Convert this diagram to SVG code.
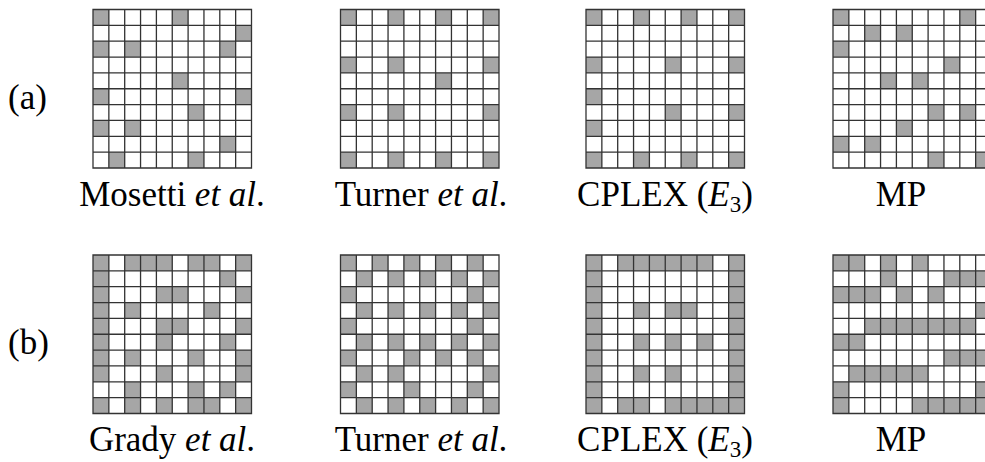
<svg xmlns="http://www.w3.org/2000/svg" xmlns:xlink="http://www.w3.org/1999/xlink" width="985" height="462" viewBox="0 0 985 462">
  <style>
    .on { fill: #a6a6a6; }
    .lines { fill: none; stroke: #333; stroke-width: 1.3; }
    .lbl { font-family: "Liberation Serif", "Times New Roman", serif; font-size: 35px; fill: #000; }
    .it { font-style: italic; }
  </style>
  <defs>
    <!-- 10 x 10 cell grid, cell size 15.85 -->
    <path id="grid" class="lines" d="M0 0H158.5V158.5H0Z
      M15.85 0V158.5M31.7 0V158.5M47.55 0V158.5M63.4 0V158.5M79.25 0V158.5M95.1 0V158.5M110.95 0V158.5M126.8 0V158.5M142.65 0V158.5
      M0 15.85H158.5M0 31.7H158.5M0 47.55H158.5M0 63.4H158.5M0 79.25H158.5M0 95.1H158.5M0 110.95H158.5M0 126.8H158.5M0 142.65H158.5"/>
    <rect id="c" class="on" width="15.85" height="15.85"/>
  </defs>

  <rect width="985" height="462" fill="#fff"/>

  <!-- row (a) -->
  <g id="grid-a1" transform="translate(93,9.5)">
    <use href="#c" x="0" y="0"/><use href="#c" x="79.25" y="0"/>
    <use href="#c" x="142.65" y="15.85"/>
    <use href="#c" x="0" y="31.7"/><use href="#c" x="31.7" y="31.7"/><use href="#c" x="126.8" y="31.7"/>
    <use href="#c" x="79.25" y="63.4"/>
    <use href="#c" x="0" y="79.25"/><use href="#c" x="142.65" y="79.25"/>
    <use href="#c" x="95.1" y="95.1"/>
    <use href="#c" x="0" y="110.95"/><use href="#c" x="31.7" y="110.95"/>
    <use href="#c" x="126.8" y="126.8"/>
    <use href="#c" x="15.85" y="142.65"/><use href="#c" x="95.1" y="142.65"/>
    <use href="#grid"/>
  </g>

  <g id="grid-a2" transform="translate(340.5,9.5)">
    <use href="#c" x="0" y="0"/><use href="#c" x="47.55" y="0"/><use href="#c" x="95.1" y="0"/><use href="#c" x="142.65" y="0"/>
    <use href="#c" x="0" y="47.55"/><use href="#c" x="47.55" y="47.55"/><use href="#c" x="142.65" y="47.55"/>
    <use href="#c" x="95.1" y="63.4"/>
    <use href="#c" x="0" y="95.1"/><use href="#c" x="47.55" y="95.1"/><use href="#c" x="142.65" y="95.1"/>
    <use href="#c" x="0" y="142.65"/><use href="#c" x="47.55" y="142.65"/><use href="#c" x="95.1" y="142.65"/><use href="#c" x="142.65" y="142.65"/>
    <use href="#grid"/>
  </g>

  <g id="grid-a3" transform="translate(586,9.5)">
    <use href="#c" x="0" y="0"/><use href="#c" x="47.55" y="0"/><use href="#c" x="95.1" y="0"/><use href="#c" x="142.65" y="0"/>
    <use href="#c" x="0" y="47.55"/><use href="#c" x="79.25" y="47.55"/><use href="#c" x="142.65" y="47.55"/>
    <use href="#c" x="0" y="79.25"/>
    <use href="#c" x="79.25" y="95.1"/><use href="#c" x="142.65" y="95.1"/>
    <use href="#c" x="0" y="110.95"/>
    <use href="#c" x="0" y="142.65"/><use href="#c" x="47.55" y="142.65"/><use href="#c" x="95.1" y="142.65"/><use href="#c" x="142.65" y="142.65"/>
    <use href="#grid"/>
  </g>

  <g id="grid-a4" transform="translate(833,9.5)">
    <use href="#c" x="0" y="0"/><use href="#c" x="126.8" y="0"/>
    <use href="#c" x="31.7" y="15.85"/><use href="#c" x="63.4" y="15.85"/>
    <use href="#c" x="0" y="31.7"/>
    <use href="#c" x="110.95" y="47.55"/>
    <use href="#c" x="47.55" y="63.4"/><use href="#c" x="79.25" y="63.4"/>
    <use href="#c" x="95.1" y="95.1"/><use href="#c" x="126.8" y="95.1"/>
    <use href="#c" x="63.4" y="110.95"/>
    <use href="#c" x="0" y="126.8"/><use href="#c" x="31.7" y="126.8"/>
    <use href="#c" x="95.1" y="142.65"/><use href="#c" x="142.65" y="142.65"/>
    <use href="#grid"/>
  </g>

  <!-- row (b) -->
  <g id="grid-b1" transform="translate(93,255)">
    <use href="#c" x="0" y="0"/><use href="#c" x="31.7" y="0"/><use href="#c" x="47.55" y="0"/><use href="#c" x="63.4" y="0"/><use href="#c" x="95.1" y="0"/><use href="#c" x="110.95" y="0"/><use href="#c" x="142.65" y="0"/>
    <use href="#c" x="0" y="15.85"/><use href="#c" x="126.8" y="15.85"/>
    <use href="#c" x="0" y="31.7"/><use href="#c" x="63.4" y="31.7"/><use href="#c" x="79.25" y="31.7"/><use href="#c" x="142.65" y="31.7"/>
    <use href="#c" x="0" y="47.55"/><use href="#c" x="31.7" y="47.55"/><use href="#c" x="110.95" y="47.55"/>
    <use href="#c" x="0" y="63.4"/><use href="#c" x="63.4" y="63.4"/><use href="#c" x="79.25" y="63.4"/><use href="#c" x="142.65" y="63.4"/>
    <use href="#c" x="0" y="79.25"/><use href="#c" x="63.4" y="79.25"/><use href="#c" x="126.8" y="79.25"/>
    <use href="#c" x="0" y="95.1"/><use href="#c" x="31.7" y="95.1"/><use href="#c" x="95.1" y="95.1"/><use href="#c" x="142.65" y="95.1"/>
    <use href="#c" x="0" y="110.95"/><use href="#c" x="63.4" y="110.95"/><use href="#c" x="142.65" y="110.95"/>
    <use href="#c" x="31.7" y="126.8"/><use href="#c" x="95.1" y="126.8"/><use href="#c" x="126.8" y="126.8"/>
    <use href="#c" x="0" y="142.65"/><use href="#c" x="31.7" y="142.65"/><use href="#c" x="63.4" y="142.65"/><use href="#c" x="95.1" y="142.65"/><use href="#c" x="110.95" y="142.65"/><use href="#c" x="142.65" y="142.65"/>
    <use href="#grid"/>
  </g>

  <g id="grid-b2" transform="translate(340.5,255)">
    <use href="#c" x="0" y="0"/><use href="#c" x="31.7" y="0"/><use href="#c" x="63.4" y="0"/><use href="#c" x="95.1" y="0"/><use href="#c" x="126.8" y="0"/>
    <use href="#c" x="15.85" y="15.85"/><use href="#c" x="47.55" y="15.85"/><use href="#c" x="79.25" y="15.85"/><use href="#c" x="110.95" y="15.85"/><use href="#c" x="142.65" y="15.85"/>
    <use href="#c" x="0" y="31.7"/><use href="#c" x="126.8" y="31.7"/>
    <use href="#c" x="15.85" y="47.55"/><use href="#c" x="47.55" y="47.55"/><use href="#c" x="79.25" y="47.55"/><use href="#c" x="110.95" y="47.55"/><use href="#c" x="142.65" y="47.55"/>
    <use href="#c" x="0" y="63.4"/><use href="#c" x="126.8" y="63.4"/>
    <use href="#c" x="15.85" y="79.25"/><use href="#c" x="47.55" y="79.25"/><use href="#c" x="79.25" y="79.25"/><use href="#c" x="110.95" y="79.25"/><use href="#c" x="142.65" y="79.25"/>
    <use href="#c" x="0" y="95.1"/><use href="#c" x="63.4" y="95.1"/><use href="#c" x="95.1" y="95.1"/><use href="#c" x="126.8" y="95.1"/>
    <use href="#c" x="15.85" y="110.95"/><use href="#c" x="47.55" y="110.95"/><use href="#c" x="142.65" y="110.95"/>
    <use href="#c" x="0" y="126.8"/><use href="#c" x="63.4" y="126.8"/><use href="#c" x="126.8" y="126.8"/>
    <use href="#c" x="15.85" y="142.65"/><use href="#c" x="47.55" y="142.65"/><use href="#c" x="79.25" y="142.65"/><use href="#c" x="110.95" y="142.65"/><use href="#c" x="142.65" y="142.65"/>
    <use href="#grid"/>
  </g>

  <g id="grid-b3" transform="translate(586,255)">
    <use href="#c" x="0" y="0"/><use href="#c" x="31.7" y="0"/><use href="#c" x="47.55" y="0"/><use href="#c" x="63.4" y="0"/><use href="#c" x="79.25" y="0"/><use href="#c" x="95.1" y="0"/><use href="#c" x="110.95" y="0"/><use href="#c" x="142.65" y="0"/>
    <use href="#c" x="0" y="15.85"/><use href="#c" x="142.65" y="15.85"/>
    <use href="#c" x="0" y="31.7"/><use href="#c" x="142.65" y="31.7"/>
    <use href="#c" x="0" y="47.55"/><use href="#c" x="47.55" y="47.55"/><use href="#c" x="79.25" y="47.55"/><use href="#c" x="95.1" y="47.55"/><use href="#c" x="142.65" y="47.55"/>
    <use href="#c" x="0" y="63.4"/><use href="#c" x="142.65" y="63.4"/>
    <use href="#c" x="0" y="79.25"/><use href="#c" x="47.55" y="79.25"/><use href="#c" x="79.25" y="79.25"/><use href="#c" x="110.95" y="79.25"/><use href="#c" x="142.65" y="79.25"/>
    <use href="#c" x="0" y="95.1"/><use href="#c" x="142.65" y="95.1"/>
    <use href="#c" x="0" y="110.95"/><use href="#c" x="47.55" y="110.95"/><use href="#c" x="79.25" y="110.95"/><use href="#c" x="142.65" y="110.95"/>
    <use href="#c" x="0" y="126.8"/><use href="#c" x="142.65" y="126.8"/>
    <use href="#c" x="0" y="142.65"/><use href="#c" x="31.7" y="142.65"/><use href="#c" x="47.55" y="142.65"/><use href="#c" x="79.25" y="142.65"/><use href="#c" x="95.1" y="142.65"/><use href="#c" x="110.95" y="142.65"/><use href="#c" x="126.8" y="142.65"/><use href="#c" x="142.65" y="142.65"/>
    <use href="#grid"/>
  </g>

  <g id="grid-b4" transform="translate(833,255)">
    <use href="#c" x="0" y="0"/><use href="#c" x="15.85" y="0"/><use href="#c" x="47.55" y="0"/><use href="#c" x="79.25" y="0"/>
    <use href="#c" x="47.55" y="15.85"/><use href="#c" x="110.95" y="15.85"/><use href="#c" x="126.8" y="15.85"/><use href="#c" x="142.65" y="15.85"/>
    <use href="#c" x="0" y="31.7"/><use href="#c" x="15.85" y="31.7"/><use href="#c" x="31.7" y="31.7"/><use href="#c" x="63.4" y="31.7"/><use href="#c" x="95.1" y="31.7"/>
    <use href="#c" x="142.65" y="47.55"/>
    <use href="#c" x="31.7" y="63.4"/><use href="#c" x="47.55" y="63.4"/><use href="#c" x="63.4" y="63.4"/><use href="#c" x="79.25" y="63.4"/><use href="#c" x="95.1" y="63.4"/><use href="#c" x="110.95" y="63.4"/><use href="#c" x="126.8" y="63.4"/>
    <use href="#c" x="0" y="79.25"/><use href="#c" x="15.85" y="79.25"/>
    <use href="#c" x="110.95" y="95.1"/><use href="#c" x="126.8" y="95.1"/><use href="#c" x="142.65" y="95.1"/>
    <use href="#c" x="15.85" y="110.95"/><use href="#c" x="31.7" y="110.95"/><use href="#c" x="47.55" y="110.95"/><use href="#c" x="63.4" y="110.95"/><use href="#c" x="79.25" y="110.95"/>
    <use href="#c" x="0" y="126.8"/><use href="#c" x="142.65" y="126.8"/>
    <use href="#c" x="0" y="142.65"/><use href="#c" x="79.25" y="142.65"/><use href="#c" x="95.1" y="142.65"/><use href="#c" x="110.95" y="142.65"/><use href="#c" x="126.8" y="142.65"/><use href="#c" x="142.65" y="142.65"/>
    <use href="#grid"/>
  </g>

  <!-- row and column labels -->
  <g id="labels" class="lbl">
    <text x="8" y="109">(a)</text>
    <text x="8" y="354">(b)</text>

    <text x="172" y="206" text-anchor="middle">Mosetti <tspan class="it">et al</tspan>.</text>
    <text x="421" y="206" text-anchor="middle">Turner <tspan class="it">et al</tspan>.</text>
    <text x="665" y="206" text-anchor="middle">CPLEX (<tspan class="it">E</tspan><tspan font-size="23" dy="6">3</tspan><tspan dy="-6">)</tspan></text>
    <text x="901" y="206" text-anchor="middle">MP</text>

    <text x="172" y="451" text-anchor="middle">Grady <tspan class="it">et al</tspan>.</text>
    <text x="421" y="451" text-anchor="middle">Turner <tspan class="it">et al</tspan>.</text>
    <text x="665" y="451" text-anchor="middle">CPLEX (<tspan class="it">E</tspan><tspan font-size="23" dy="6">3</tspan><tspan dy="-6">)</tspan></text>
    <text x="901" y="451" text-anchor="middle">MP</text>
  </g>
</svg>
